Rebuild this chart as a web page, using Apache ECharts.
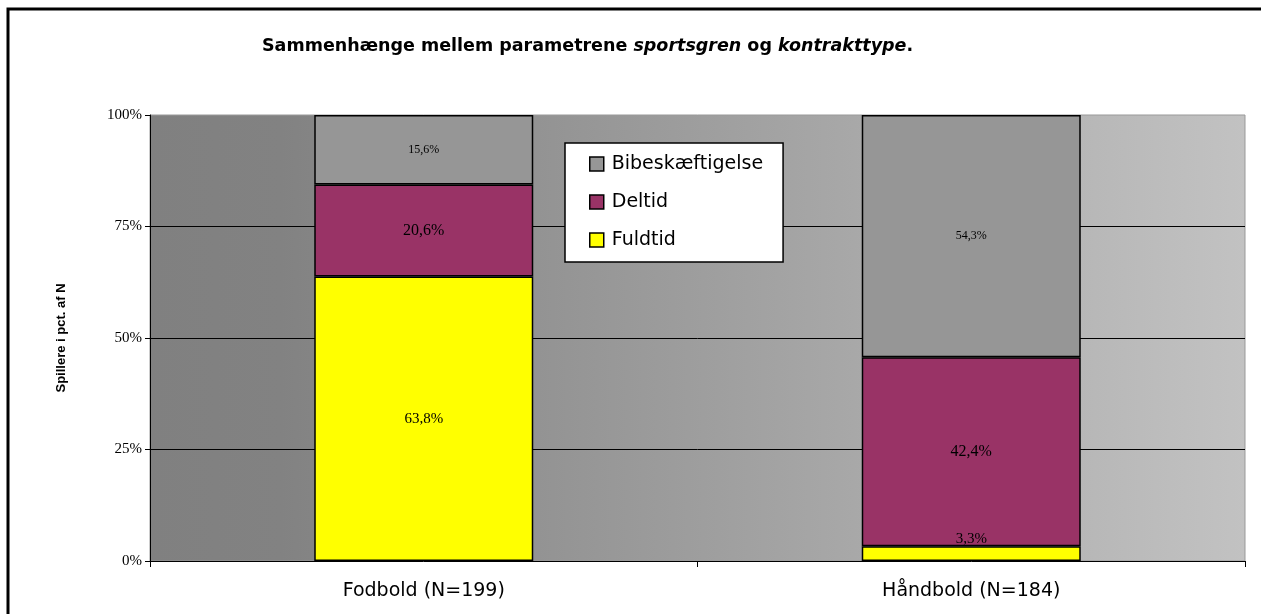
<!DOCTYPE html>
<html><head><meta charset="utf-8">
<script src="https://cdn.jsdelivr.net/npm/echarts@6/dist/echarts.min.js"></script>
<style>html,body{margin:0;padding:0;background:#fff}#c{width:1265px;height:614px}</style>
</head><body><div id="c"></div>
<script>
const categories = ['Fodbold (N=199)', 'Håndbold (N=184)'];
const fuldtid = [63.8, 3.3];
const deltid = [20.6, 42.4];
const bibeskaeftigelse = [15.6, 54.3];
const yTicks = [0, 25, 50, 75, 100];

const chart = echarts.init(document.getElementById('c'), null, {renderer: 'canvas'});
const fmt = p => p.value.toFixed(1).replace('.', ',') + '%';
const barBase = {type: 'bar', stack: 'total', barWidth: '40%',
  itemStyle: {borderColor: '#000', borderWidth: 1.5}};
chart.setOption({
  animation: false,
  backgroundColor: '#fff',
  title: {
    left: 257, top: 32,
    text: '{b|Sammenhænge mellem parametrene }{i|sportsgren}{b| og }{i|kontrakttype}{b|.}',
    textStyle: {rich: {
      b: {fontFamily: 'DejaVu Sans', fontWeight: 'bold', fontSize: 17.5, color: '#000'},
      i: {fontFamily: 'DejaVu Sans', fontWeight: 'bold', fontStyle: 'italic', fontSize: 17.5, color: '#000'}
    }}
  },
  graphic: [
    {type: 'polyline', shape: {points: [[8, 640], [8, 9], [1261, 9]]}, style: {stroke: '#000', lineWidth: 3, fill: null}, silent: true}
  ],
  legend: {
    data: ['Bibeskæftigelse', 'Deltid', 'Fuldtid'],
    orient: 'vertical', left: 565, top: 143,
    padding: [11, 20, 12, 24], itemGap: 18,
    itemWidth: 14, itemHeight: 14, icon: 'rect',
    backgroundColor: '#fff', borderColor: '#000', borderWidth: 1.5,
    itemStyle: {borderColor: '#000', borderWidth: 1.5},
    textStyle: {fontFamily: 'DejaVu Sans', fontSize: 19, color: '#000', lineHeight: 20, padding: [0, 0, 0, 3]}
  },
  grid: {
    left: 150, right: 20, top: 115, bottom: 53, show: true,
    borderColor: '#999', borderWidth: 1,
    backgroundColor: new echarts.graphic.LinearGradient(0, 0, 1, 0, [
      {offset: 0, color: '#808080'}, {offset: 0.12, color: '#828282'}, {offset: 1, color: '#c2c2c2'}
    ])
  },
  xAxis: {
    type: 'category', data: categories,
    axisLine: {lineStyle: {color: '#000', width: 1}},
    axisTick: {show: true, length: 6, lineStyle: {color: '#000'}},
    axisLabel: {fontFamily: 'DejaVu Sans', fontSize: 19, color: '#000', margin: 21}
  },
  yAxis: {
    type: 'value', min: yTicks[0], max: yTicks[yTicks.length - 1], interval: 25,
    name: 'Spillere i pct. af N', nameLocation: 'middle', nameGap: 82, nameRotate: 90,
    nameTextStyle: {fontFamily: 'Liberation Sans', fontWeight: 'bold', fontSize: 13, color: '#000'},
    axisLine: {show: true, lineStyle: {color: '#000', width: 1}},
    axisTick: {show: true, length: 5, lineStyle: {color: '#000'}},
    axisLabel: {fontFamily: 'Liberation Serif', fontSize: 15, color: '#000', margin: 8, formatter: '{value}%'},
    splitLine: {show: true, showMinLine: false, showMaxLine: false, lineStyle: {color: '#000', width: 1}}
  },
  series: [
    Object.assign({}, barBase, {name: 'Fuldtid', data: [
      {value: fuldtid[0]},
      {value: fuldtid[1], label: {position: 'top', distance: 0}}
    ], itemStyle: {color: '#ffff00', borderColor: '#000', borderWidth: 1.5},
      label: {show: true, position: 'inside', formatter: fmt, fontFamily: 'Liberation Serif', fontSize: 15, color: '#000'}}),
    Object.assign({}, barBase, {name: 'Deltid', data: deltid,
      itemStyle: {color: '#993366', borderColor: '#000', borderWidth: 1.5},
      label: {show: true, position: 'inside', formatter: fmt, fontFamily: 'Liberation Serif', fontSize: 16, color: '#000'}}),
    Object.assign({}, barBase, {name: 'Bibeskæftigelse', data: bibeskaeftigelse,
      itemStyle: {color: '#969696', borderColor: '#000', borderWidth: 1.5},
      label: {show: true, position: 'inside', formatter: fmt, fontFamily: 'Liberation Serif', fontSize: 12, color: '#000'}})
  ]
});
</script></body></html>
